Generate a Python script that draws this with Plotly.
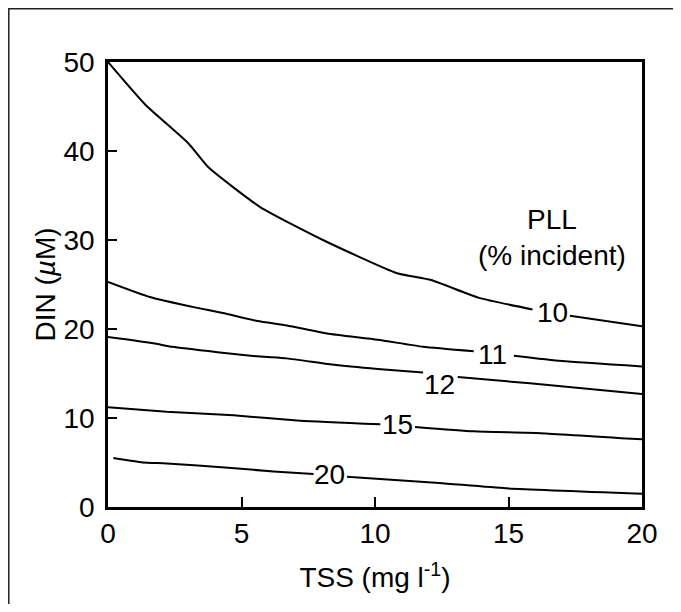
import plotly.graph_objects as go

# TSS (mg l-1) / DIN (uM) contour lines of PLL (% incident); None = gap for inline label
pll_levels = ["10", "11", "12", "15", "20"]

tss_10 = [0, 1.4, 3.0, 3.75, 5.7, 8.05, 10.8, 12.1, 13.9, 15.9, None, 17.3, 20]
din_10 = [50, 45.2, 40.9, 38.2, 33.7, 30.0, 26.3, 25.5, 23.5, 22.2, None, 21.5, 20.3]

tss_11 = [0, 1.57, 3.3, 4.3, 5.6, 6.7, 8.2, 10.1, 11.8, 13.7, None, 15.2, 17.0, 20]
din_11 = [25.3, 23.6, 22.4, 21.8, 20.9, 20.4, 19.5, 18.8, 18.0, 17.5, None, 17.0, 16.4, 15.8]

tss_12 = [0, 1.7, 2.4, 4.1, 5.7, 6.7, 8.4, 10.1, 11.8, None, 13.1, 15.8, 20]
din_12 = [19.1, 18.4, 18.0, 17.4, 16.9, 16.7, 16.0, 15.5, 15.1, None, 14.6, 13.9, 12.7]

tss_15 = [0, 2.2, 4.7, 7.2, 10.2, None, 11.5, 13.7, 16.2, 20]
din_15 = [11.2, 10.7, 10.3, 9.7, 9.3, None, 9.0, 8.5, 8.3, 7.6]

tss_20 = [0.2, 1.3, 2.2, 4.5, 6.2, 7.7, None, 8.95, 12.4, 14.9, 20]
din_20 = [5.5, 5.0, 4.9, 4.4, 4.0, 3.7, None, 3.4, 2.7, 2.1, 1.5]

# inline label positions (data coordinates)
label_tss = [16.65, 14.4, 12.43, 10.86, 8.31]
label_din = [21.8, 17.1, 13.8, 9.3, 3.6]

x_ticks = [0, 5, 10, 15, 20]
y_ticks = [0, 10, 20, 30, 40, 50]

FONT = "Liberation Sans, Arial, Helvetica, sans-serif"
FS = 28

fig = go.Figure()
for xs, ys in [(tss_10, din_10), (tss_11, din_11), (tss_12, din_12),
               (tss_15, din_15), (tss_20, din_20)]:
    fig.add_trace(go.Scatter(x=xs, y=ys, mode="lines", connectgaps=False,
                             line=dict(color="black", width=2,
                                       shape="spline", smoothing=0.5),
                             showlegend=False, hoverinfo="skip"))

for lab, lx, ly in zip(pll_levels, label_tss, label_din):
    fig.add_annotation(x=lx, y=ly, text=lab, showarrow=False,
                       xanchor="center", yanchor="middle",
                       font=dict(family=FONT, size=FS, color="black"))

fig.add_annotation(x=0.832, y=0.606, xref="paper", yref="paper",
                   xanchor="center", yanchor="middle",
                   text="PLL<br>(% incident)", showarrow=False, align="center",
                   font=dict(family=FONT, size=FS, color="black"))

# outer frame (left and top edges)
fig.add_shape(type="path", xref="paper", yref="paper",
              path="M -0.1858,-0.3 L -0.1858,1.1197 L 1.2,1.1197",
              line=dict(color="#222", width=1.5))

fig.update_layout(
    width=665, height=596,
    margin=dict(l=100, r=31, t=54, b=97),
    paper_bgcolor="white", plot_bgcolor="white",
    font=dict(family=FONT, size=FS, color="black"),
    xaxis=dict(range=[0, 20], tickvals=x_ticks, ticktext=[str(v) for v in x_ticks],
               ticks="inside", ticklen=10, tickwidth=2, tickcolor="black",
               showline=True, linewidth=2.5, linecolor="black", mirror=True,
               showgrid=False, zeroline=False, automargin=False,
               ticklabelstandoff=0,
               title=dict(text="TSS (mg l<sup>-1</sup>)", standoff=20,
                          font=dict(size=FS))),
    yaxis=dict(range=[0, 50], tickvals=y_ticks, ticktext=[str(v) for v in y_ticks],
               ticks="inside", ticklen=9, tickwidth=2, tickcolor="black",
               showline=True, linewidth=2.5, linecolor="black", mirror=True,
               showgrid=False, zeroline=False, automargin=False,
               ticklabelstandoff=5,
               title=dict(text="DIN (<i>µ</i>M)", standoff=0,
                          font=dict(size=FS))),
)

fig.write_html("out.html")
